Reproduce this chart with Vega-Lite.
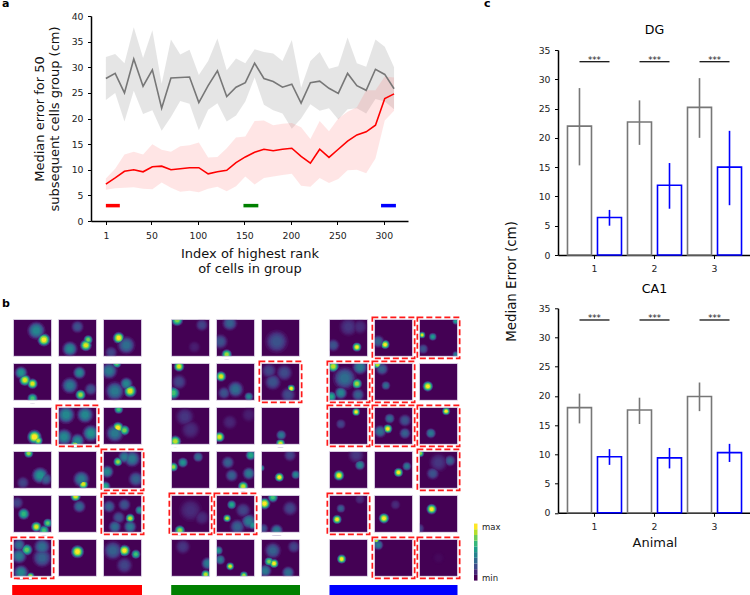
{"$schema":"https://vega.github.io/schema/vega-lite/v6.json","padding":{"left":2,"top":-2,"right":0,"bottom":0},"background":"white",
"config":{"view":{"stroke":null},"font":"DejaVu Sans","circle":{"opacity":1,"stroke":null},"legend":{"disable":true},
"axis":{"grid":false,"labelOverlap":false,"domainColor":"#000","domainWidth":1.5,"tickColor":"#000","tickSize":3.5,"tickWidth":1,"labelFont":"DejaVu Sans","labelFontSize":9.3,"labelColor":"#222","labelPadding":4.5,"titleFont":"DejaVu Sans","titleFontWeight":"normal","titleFontSize":13,"titleColor":"#111"},
"title":{"font":"DejaVu Sans"}},
"datasets":{
"spacer":[{"k":1}],
"slots":[{"m":1,"row":0,"col":0},{"m":2,"row":0,"col":1},{"m":3,"row":0,"col":2},{"m":4,"row":1,"col":0},{"m":5,"row":1,"col":1},{"m":6,"row":1,"col":2},{"m":7,"row":2,"col":0},{"m":8,"row":2,"col":1},{"m":9,"row":2,"col":2},{"m":10,"row":3,"col":0},{"m":11,"row":3,"col":1},{"m":12,"row":3,"col":2},{"m":13,"row":4,"col":0},{"m":14,"row":4,"col":1},{"m":15,"row":4,"col":2},{"m":16,"row":5,"col":0},{"m":17,"row":5,"col":1},{"m":18,"row":5,"col":2}],
"curve":[
{"x":1,"s":"gray","m":27.8,"lo":23.6,"hi":32.0},{"x":11,"s":"gray","m":28.8,"lo":25.0,"hi":32.6},{"x":21,"s":"gray","m":25.0,"lo":19.4,"hi":30.8},{"x":31,"s":"gray","m":31.6,"lo":25.4,"hi":37.8},{"x":41,"s":"gray","m":26.3,"lo":20.9,"hi":31.8},{"x":51,"s":"gray","m":29.5,"lo":21.6,"hi":37.2},{"x":61,"s":"gray","m":22.0,"lo":17.6,"hi":26.8},{"x":71,"s":"gray","m":27.9,"lo":20.3,"hi":35.4},{"x":81,"s":"gray","m":28.0,"lo":23.4,"hi":32.5},{"x":91,"s":"gray","m":28.1,"lo":22.9,"hi":33.4},{"x":101,"s":"gray","m":23.1,"lo":17.7,"hi":28.5},{"x":111,"s":"gray","m":26.4,"lo":21.7,"hi":31.2},{"x":121,"s":"gray","m":29.3,"lo":23.0,"hi":35.6},{"x":131,"s":"gray","m":24.3,"lo":19.4,"hi":29.4},{"x":141,"s":"gray","m":26.1,"lo":20.6,"hi":31.7},{"x":151,"s":"gray","m":27.0,"lo":23.3,"hi":30.8},{"x":161,"s":"gray","m":30.8,"lo":28.0,"hi":33.5},{"x":171,"s":"gray","m":27.8,"lo":22.7,"hi":33.0},{"x":181,"s":"gray","m":27.2,"lo":21.6,"hi":32.7},{"x":191,"s":"gray","m":26.1,"lo":21.0,"hi":31.2},{"x":201,"s":"gray","m":26.7,"lo":18.0,"hi":35.3},{"x":211,"s":"gray","m":23.0,"lo":20.0,"hi":26.0},{"x":221,"s":"gray","m":27.0,"lo":22.8,"hi":31.2},{"x":231,"s":"gray","m":27.3,"lo":21.5,"hi":33.0},{"x":241,"s":"gray","m":25.9,"lo":22.0,"hi":29.7},{"x":251,"s":"gray","m":24.9,"lo":19.8,"hi":30.2},{"x":261,"s":"gray","m":28.8,"lo":21.8,"hi":35.8},{"x":271,"s":"gray","m":26.4,"lo":22.0,"hi":30.8},{"x":281,"s":"gray","m":25.5,"lo":21.0,"hi":30.1},{"x":291,"s":"gray","m":29.6,"lo":23.8,"hi":35.4},{"x":301,"s":"gray","m":28.6,"lo":23.3,"hi":34.0},{"x":311,"s":"gray","m":25.8,"lo":21.8,"hi":30.0},
{"x":1,"s":"red","m":7.2,"lo":6.1,"hi":8.3},{"x":11,"s":"red","m":8.4,"lo":6.4,"hi":10.2},{"x":21,"s":"red","m":9.7,"lo":6.5,"hi":13.0},{"x":31,"s":"red","m":10.0,"lo":6.6,"hi":13.5},{"x":41,"s":"red","m":9.6,"lo":6.3,"hi":13.0},{"x":51,"s":"red","m":10.6,"lo":6.2,"hi":15.0},{"x":61,"s":"red","m":10.7,"lo":7.5,"hi":13.9},{"x":71,"s":"red","m":10.0,"lo":6.5,"hi":13.5},{"x":81,"s":"red","m":10.2,"lo":5.7,"hi":14.6},{"x":91,"s":"red","m":10.4,"lo":5.9,"hi":14.8},{"x":101,"s":"red","m":10.4,"lo":5.6,"hi":15.3},{"x":111,"s":"red","m":9.2,"lo":6.3,"hi":12.4},{"x":121,"s":"red","m":9.6,"lo":6.7,"hi":12.5},{"x":131,"s":"red","m":9.9,"lo":5.8,"hi":14.2},{"x":141,"s":"red","m":11.4,"lo":6.8,"hi":16.3},{"x":151,"s":"red","m":12.5,"lo":8.7,"hi":16.5},{"x":161,"s":"red","m":13.4,"lo":7.1,"hi":19.5},{"x":171,"s":"red","m":14.0,"lo":8.4,"hi":19.6},{"x":181,"s":"red","m":13.7,"lo":8.7,"hi":18.7},{"x":191,"s":"red","m":14.0,"lo":9.0,"hi":19.0},{"x":201,"s":"red","m":14.2,"lo":9.2,"hi":19.1},{"x":211,"s":"red","m":12.6,"lo":6.9,"hi":18.3},{"x":221,"s":"red","m":11.3,"lo":6.7,"hi":16.0},{"x":231,"s":"red","m":14.0,"lo":8.4,"hi":19.5},{"x":241,"s":"red","m":12.4,"lo":7.4,"hi":17.5},{"x":251,"s":"red","m":14.0,"lo":8.2,"hi":20.0},{"x":261,"s":"red","m":15.6,"lo":9.9,"hi":21.3},{"x":271,"s":"red","m":16.8,"lo":10.0,"hi":22.2},{"x":281,"s":"red","m":17.4,"lo":9.3,"hi":25.5},{"x":291,"s":"red","m":18.7,"lo":12.2,"hi":25.5},{"x":301,"s":"red","m":23.9,"lo":19.6,"hi":28.2},{"x":311,"s":"red","m":24.8,"lo":21.5,"hi":28.0}],
"ranges":[{"s":"red","start":1,"end":16,"y":3},{"s":"green","start":149,"end":165,"y":3},{"s":"blue","start":297,"end":313,"y":3}],
"groupbars":[{"g":1,"s":"red","start":2.2,"end":132},{"g":2,"s":"green","start":3.2,"end":132},{"g":3,"s":"blue","start":3.5,"end":131.5}],
"colorbar":[{"v":0,"v2":0.1},{"v":0.1,"v2":0.2},{"v":0.2,"v2":0.3},{"v":0.3,"v2":0.4},{"v":0.4,"v2":0.5},{"v":0.5,"v2":0.6},{"v":0.6,"v2":0.7},{"v":0.7,"v2":0.8},{"v":0.8,"v2":0.9},{"v":0.9,"v2":1}],
"errors":[
{"region":"DG","animal":"1","group":"gray","median":22,"lo":15.3,"hi":28.5},{"region":"DG","animal":"1","group":"blue","median":6.4,"lo":5,"hi":7.7},{"region":"DG","animal":"2","group":"gray","median":22.7,"lo":18.8,"hi":26.4},{"region":"DG","animal":"2","group":"blue","median":11.9,"lo":7.9,"hi":15.7},{"region":"DG","animal":"3","group":"gray","median":25.2,"lo":20,"hi":30.2},{"region":"DG","animal":"3","group":"blue","median":15,"lo":8.5,"hi":21.2},
{"region":"CA1","animal":"1","group":"gray","median":18,"lo":15.3,"hi":20.4},{"region":"CA1","animal":"1","group":"blue","median":9.6,"lo":8.2,"hi":10.9},{"region":"CA1","animal":"2","group":"gray","median":17.6,"lo":15.2,"hi":19.7},{"region":"CA1","animal":"2","group":"blue","median":9.4,"lo":7.6,"hi":11.1},{"region":"CA1","animal":"3","group":"gray","median":19.9,"lo":17.4,"hi":22.3},{"region":"CA1","animal":"3","group":"blue","median":10.3,"lo":8.7,"hi":11.8}],
"blobs":[
{"g":1,"m":1,"x":0.8,"y":0.55,"v":1,"r":0.1},{"g":1,"m":1,"x":0.6,"y":0.3,"v":0.45,"r":0.14},
{"g":1,"m":2,"x":0.72,"y":0.7,"v":0.95,"r":0.09},{"g":1,"m":2,"x":0.78,"y":0.55,"v":0.8,"r":0.07},{"g":1,"m":2,"x":0.3,"y":0.8,"v":0.45,"r":0.12},{"g":1,"m":2,"x":0.5,"y":0.2,"v":0.25,"r":0.1},
{"g":1,"m":3,"x":0.4,"y":0.5,"v":1,"r":0.09},{"g":1,"m":3,"x":0.6,"y":0.7,"v":0.35,"r":0.14},{"g":1,"m":3,"x":0.2,"y":0.9,"v":0.2,"r":0.1},
{"g":1,"m":4,"x":0.3,"y":0.45,"v":0.95,"r":0.09},{"g":1,"m":4,"x":0.5,"y":0.55,"v":0.95,"r":0.08},{"g":1,"m":4,"x":0.5,"y":0.95,"v":0.7,"r":0.08},{"g":1,"m":4,"x":0.2,"y":0.25,"v":0.5,"r":0.1},
{"g":1,"m":5,"x":0.58,"y":0.85,"v":0.85,"r":0.08},{"g":1,"m":5,"x":0.55,"y":0.25,"v":0.45,"r":0.1},{"g":1,"m":5,"x":0.3,"y":0.6,"v":0.4,"r":0.13},{"g":1,"m":5,"x":0.85,"y":0.7,"v":0.25,"r":0.1},
{"g":1,"m":6,"x":0.7,"y":0.75,"v":0.95,"r":0.1},{"g":1,"m":6,"x":0.35,"y":0,"v":0.75,"r":0.07},{"g":1,"m":6,"x":0.3,"y":0.75,"v":0.4,"r":0.15},{"g":1,"m":6,"x":0.15,"y":0.2,"v":0.4,"r":0.13},{"g":1,"m":6,"x":0.6,"y":0.55,"v":0.45,"r":0.1},
{"g":1,"m":7,"x":0.55,"y":0.8,"v":1,"r":0.11},{"g":1,"m":7,"x":0.65,"y":0.9,"v":0.9,"r":0.07},
{"g":1,"m":8,"x":0.45,"y":1,"v":0.85,"r":0.08,"d":1},{"g":1,"m":8,"x":0.2,"y":0.2,"v":0.46,"r":0.14},{"g":1,"m":8,"x":0.7,"y":0.2,"v":0.46,"r":0.13},{"g":1,"m":8,"x":0.85,"y":0.7,"v":0.5,"r":0.13},{"g":1,"m":8,"x":0.15,"y":0.8,"v":0.46,"r":0.13},{"g":1,"m":8,"x":0.5,"y":0.9,"v":0.46,"r":0.11},
{"g":1,"m":9,"x":0.38,"y":0.55,"v":1,"r":0.09},{"g":1,"m":9,"x":0.55,"y":0.62,"v":0.8,"r":0.08},{"g":1,"m":9,"x":0.4,"y":0.05,"v":0.7,"r":0.07},{"g":1,"m":9,"x":0.3,"y":0.7,"v":0.4,"r":0.14},
{"g":1,"m":10,"x":0.4,"y":0.05,"v":0.85,"r":0.07},{"g":1,"m":10,"x":0.7,"y":0.65,"v":0.5,"r":0.13},{"g":1,"m":10,"x":0.85,"y":0.75,"v":0.3,"r":0.1},{"g":1,"m":10,"x":0.25,"y":0.85,"v":0.2,"r":0.1},
{"g":1,"m":11,"x":0.65,"y":0.88,"v":0.95,"r":0.08},{"g":1,"m":11,"x":0.6,"y":0.75,"v":0.4,"r":0.13},
{"g":1,"m":12,"x":0.38,"y":0.28,"v":0.85,"r":0.07,"d":1},{"g":1,"m":12,"x":0.1,"y":0.55,"v":0.45,"r":0.1},{"g":1,"m":12,"x":0.55,"y":0.15,"v":0.4,"r":0.1},{"g":1,"m":12,"x":0.75,"y":0.2,"v":0.4,"r":0.13},{"g":1,"m":12,"x":0.05,"y":0.95,"v":0.6,"r":0.08},{"g":1,"m":12,"x":0.85,"y":0.75,"v":0.3,"r":0.12},
{"g":1,"m":13,"x":0.27,"y":0.5,"v":0.65,"r":0.09},{"g":1,"m":13,"x":0.6,"y":0.85,"v":0.95,"r":0.08},{"g":1,"m":13,"x":0.9,"y":0.75,"v":0.75,"r":0.07},{"g":1,"m":13,"x":0.8,"y":0.95,"v":0.7,"r":0.08},{"g":1,"m":13,"x":0.1,"y":0.2,"v":0.2,"r":0.1},
{"g":1,"m":14,"x":0.45,"y":0.02,"v":0.95,"r":0.08},{"g":1,"m":14,"x":0.55,"y":0.3,"v":0.33,"r":0.1},
{"g":1,"m":15,"x":0.7,"y":0.62,"v":0.9,"r":0.07,"d":1},{"g":1,"m":15,"x":0.95,"y":0.4,"v":0.5,"r":0.07},{"g":1,"m":15,"x":0.7,"y":0.85,"v":0.4,"r":0.1},{"g":1,"m":15,"x":0.3,"y":0.85,"v":0.35,"r":0.1},{"g":1,"m":15,"x":0.15,"y":0.3,"v":0.3,"r":0.1},{"g":1,"m":15,"x":0.55,"y":0.25,"v":0.25,"r":0.1},{"g":1,"m":15,"x":0.4,"y":0.6,"v":0.25,"r":0.1},
{"g":1,"m":16,"x":0.35,"y":0.28,"v":0.75,"r":0.09,"d":1},{"g":1,"m":16,"x":0.45,"y":1,"v":0.9,"r":0.06},{"g":1,"m":16,"x":0.15,"y":0.45,"v":0.4,"r":0.12},{"g":1,"m":16,"x":0.2,"y":0.9,"v":0.45,"r":0.12},{"g":1,"m":16,"x":0.75,"y":0.5,"v":0.3,"r":0.15},{"g":1,"m":16,"x":0.75,"y":0.2,"v":0.35,"r":0.13},{"g":1,"m":16,"x":0.15,"y":0.15,"v":0.35,"r":0.1},
{"g":1,"m":17,"x":0.5,"y":0.33,"v":1,"r":0.1},
{"g":1,"m":18,"x":0.55,"y":0.3,"v":1,"r":0.09},{"g":1,"m":18,"x":0.85,"y":0.4,"v":0.7,"r":0.07},{"g":1,"m":18,"x":0.25,"y":0.3,"v":0.3,"r":0.15},{"g":1,"m":18,"x":0.55,"y":0.7,"v":0.2,"r":0.13},
{"g":2,"m":1,"x":0.15,"y":0.02,"v":0.8,"r":0.09},{"g":2,"m":1,"x":0.8,"y":0.15,"v":0.2,"r":0.1},{"g":2,"m":1,"x":0.6,"y":0.75,"v":0.08,"r":0.1},
{"g":2,"m":2,"x":0.27,"y":0.95,"v":0.85,"r":0.08},{"g":2,"m":2,"x":0.35,"y":0.1,"v":0.3,"r":0.12},{"g":2,"m":2,"x":0.1,"y":0.6,"v":0.25,"r":0.12},
{"g":2,"m":3,"x":0.38,"y":0.58,"v":1,"r":0.08},{"g":2,"m":3,"x":0.4,"y":0.6,"v":0.25,"r":0.18},
{"g":2,"m":4,"x":0.2,"y":0.08,"v":0.95,"r":0.08},{"g":2,"m":4,"x":0.05,"y":0.8,"v":0.7,"r":0.1},{"g":2,"m":4,"x":0.2,"y":0.5,"v":0.2,"r":0.12},
{"g":2,"m":5,"x":0.12,"y":0.35,"v":0.95,"r":0.08},{"g":2,"m":5,"x":0.5,"y":0.7,"v":0.35,"r":0.13},{"g":2,"m":5,"x":0.2,"y":0.8,"v":0.25,"r":0.1},{"g":2,"m":5,"x":0.85,"y":0.9,"v":0.45,"r":0.07},
{"g":2,"m":6,"x":0.78,"y":0.68,"v":1,"r":0.06,"d":1},{"g":2,"m":6,"x":0.3,"y":0.5,"v":0.25,"r":0.13},{"g":2,"m":6,"x":0.6,"y":0.25,"v":0.22,"r":0.13},{"g":2,"m":6,"x":0.7,"y":0.85,"v":0.22,"r":0.12},{"g":2,"m":6,"x":0.2,"y":0.2,"v":0.2,"r":0.12},
{"g":2,"m":7,"x":0.1,"y":0.92,"v":0.9,"r":0.09},{"g":2,"m":7,"x":0.35,"y":0.25,"v":0.15,"r":0.15},{"g":2,"m":7,"x":0.5,"y":0.6,"v":0.12,"r":0.15},
{"g":2,"m":8,"x":0.08,"y":0.8,"v":0.95,"r":0.08},{"g":2,"m":8,"x":0.35,"y":0.4,"v":0.1,"r":0.12},{"g":2,"m":8,"x":0.85,"y":0.2,"v":0.08,"r":0.12},
{"g":2,"m":9,"x":0.5,"y":0.98,"v":0.95,"r":0.07},{"g":2,"m":9,"x":0.52,"y":0.75,"v":0.4,"r":0.08},
{"g":2,"m":10,"x":0.05,"y":0.42,"v":0.85,"r":0.07},{"g":2,"m":10,"x":0.3,"y":0.3,"v":0.5,"r":0.08},{"g":2,"m":10,"x":0.7,"y":0.15,"v":0.35,"r":0.08},
{"g":2,"m":11,"x":0.7,"y":0.95,"v":0.9,"r":0.08},{"g":2,"m":11,"x":0.9,"y":0.1,"v":0.6,"r":0.08},{"g":2,"m":11,"x":0.85,"y":0.6,"v":0.4,"r":0.1},{"g":2,"m":11,"x":0.3,"y":0.3,"v":0.3,"r":0.1},{"g":2,"m":11,"x":0.4,"y":0.65,"v":0.3,"r":0.1},
{"g":2,"m":12,"x":0.47,"y":0.7,"v":1,"r":0.07},{"g":2,"m":12,"x":0,"y":0.45,"v":0.55,"r":0.05},{"g":2,"m":12,"x":0.9,"y":0.63,"v":0.45,"r":0.07},{"g":2,"m":12,"x":0.75,"y":0.1,"v":0.2,"r":0.1},
{"g":2,"m":13,"x":0.22,"y":0.95,"v":0.85,"r":0.08,"d":1},{"g":2,"m":13,"x":0.5,"y":0.4,"v":0.12,"r":0.18},{"g":2,"m":13,"x":0.8,"y":0.6,"v":0.12,"r":0.12},
{"g":2,"m":14,"x":0.28,"y":0.62,"v":0.9,"r":0.06,"d":1},{"g":2,"m":14,"x":0.4,"y":0.25,"v":0.6,"r":0.07},{"g":2,"m":14,"x":0.85,"y":0.7,"v":0.4,"r":0.12},{"g":2,"m":14,"x":0.95,"y":0.8,"v":0.5,"r":0.07},{"g":2,"m":14,"x":0.55,"y":0.85,"v":0.3,"r":0.12},{"g":2,"m":14,"x":0.7,"y":0.4,"v":0.2,"r":0.12},
{"g":2,"m":15,"x":0.08,"y":0.22,"v":1,"r":0.09},{"g":2,"m":15,"x":0.3,"y":0.05,"v":0.7,"r":0.08},{"g":2,"m":15,"x":0.4,"y":0.95,"v":0.4,"r":0.1},{"g":2,"m":15,"x":0.75,"y":0.35,"v":0.2,"r":0.12},{"g":2,"m":15,"x":0.05,"y":0.9,"v":0.25,"r":0.08},
{"g":2,"m":16,"x":0.9,"y":0.95,"v":0.9,"r":0.07},{"g":2,"m":16,"x":0.95,"y":0.65,"v":0.4,"r":0.1},{"g":2,"m":16,"x":0.3,"y":0.2,"v":0.15,"r":0.12},
{"g":2,"m":17,"x":0.36,"y":0.73,"v":0.95,"r":0.06},{"g":2,"m":17,"x":0.05,"y":0.3,"v":0.5,"r":0.07},{"g":2,"m":17,"x":0.1,"y":0.55,"v":0.4,"r":0.08},{"g":2,"m":17,"x":0.72,"y":0.97,"v":0.85,"r":0.06},
{"g":2,"m":18,"x":0.33,"y":0.65,"v":1,"r":0.07},{"g":2,"m":18,"x":0.2,"y":0.6,"v":0.8,"r":0.07},{"g":2,"m":18,"x":0.1,"y":0.85,"v":0.4,"r":0.1},{"g":2,"m":18,"x":0.7,"y":0.9,"v":0.35,"r":0.1},{"g":2,"m":18,"x":0.3,"y":0.3,"v":0.3,"r":0.13},{"g":2,"m":18,"x":0.85,"y":0.2,"v":0.2,"r":0.1},
{"g":3,"m":1,"x":0.72,"y":0.75,"v":1,"r":0.07},{"g":3,"m":1,"x":0.1,"y":0.7,"v":0.25,"r":0.1},{"g":3,"m":1,"x":0.5,"y":0.2,"v":0.15,"r":0.15},{"g":3,"m":1,"x":0.8,"y":0.2,"v":0.12,"r":0.12},
{"g":3,"m":2,"x":0.28,"y":0.68,"v":1,"r":0.07,"d":1},{"g":3,"m":2,"x":0.1,"y":0.6,"v":0.3,"r":0.1},
{"g":3,"m":3,"x":0.07,"y":0.42,"v":0.95,"r":0.05,"d":1},{"g":3,"m":3,"x":0.35,"y":0.47,"v":0.55,"r":0.06},{"g":3,"m":3,"x":0.95,"y":0.05,"v":0.55,"r":0.05},{"g":3,"m":3,"x":0.95,"y":0.95,"v":0.4,"r":0.05},{"g":3,"m":3,"x":0.1,"y":0.8,"v":0.25,"r":0.08},
{"g":3,"m":4,"x":0.1,"y":0.08,"v":0.9,"r":0.09,"d":1},{"g":3,"m":4,"x":0.72,"y":0.55,"v":0.85,"r":0.08},{"g":3,"m":4,"x":0.05,"y":0.9,"v":0.6,"r":0.08},{"g":3,"m":4,"x":0.8,"y":0.1,"v":0.4,"r":0.12},{"g":3,"m":4,"x":0.3,"y":0.8,"v":0.45,"r":0.1},{"g":3,"m":4,"x":0.75,"y":0.85,"v":0.3,"r":0.1},{"g":3,"m":4,"x":0.4,"y":0.4,"v":0.35,"r":0.18},
{"g":3,"m":5,"x":0.08,"y":0.03,"v":0.9,"r":0.07,"d":1},{"g":3,"m":5,"x":0.3,"y":0.6,"v":0.35,"r":0.07},{"g":3,"m":5,"x":0.2,"y":0.15,"v":0.3,"r":0.1},
{"g":3,"m":6,"x":0.22,"y":0.62,"v":1,"r":0.08},
{"g":3,"m":7,"x":0.7,"y":0.12,"v":1,"r":0.06,"d":1},{"g":3,"m":7,"x":0.3,"y":0.45,"v":0.2,"r":0.08},
{"g":3,"m":8,"x":0.35,"y":0.58,"v":1,"r":0.07,"d":1},{"g":3,"m":8,"x":0.4,"y":0.3,"v":0.35,"r":0.08},{"g":3,"m":8,"x":0.15,"y":0.65,"v":0.35,"r":0.1},{"g":3,"m":8,"x":0.8,"y":0.7,"v":0.3,"r":0.09},{"g":3,"m":8,"x":0.8,"y":0.35,"v":0.25,"r":0.1},
{"g":3,"m":9,"x":0.7,"y":0.1,"v":1,"r":0.06,"d":1},{"g":3,"m":9,"x":0.3,"y":0.7,"v":0.4,"r":0.08},
{"g":3,"m":10,"x":0.25,"y":0.65,"v":1,"r":0.08},{"g":3,"m":10,"x":0.8,"y":0.37,"v":0.45,"r":0.08},{"g":3,"m":10,"x":0.7,"y":0.1,"v":0.15,"r":0.13},
{"g":3,"m":11,"x":0.63,"y":0.57,"v":1,"r":0.07},{"g":3,"m":11,"x":0.85,"y":0.4,"v":0.4,"r":0.07},
{"g":3,"m":12,"x":0.02,"y":0.05,"v":0.85,"r":0.06,"d":1},{"g":3,"m":12,"x":0.35,"y":0.6,"v":0.25,"r":0.1},{"g":3,"m":12,"x":0.8,"y":0.25,"v":0.3,"r":0.09},{"g":3,"m":12,"x":0.5,"y":0.3,"v":0.15,"r":0.15},
{"g":3,"m":13,"x":0.2,"y":0.65,"v":1,"r":0.07,"d":1},{"g":3,"m":13,"x":0.3,"y":0.35,"v":0.3,"r":0.07},{"g":3,"m":13,"x":0.8,"y":0.1,"v":0.12,"r":0.08},
{"g":3,"m":14,"x":0.25,"y":0.62,"v":1,"r":0.08},{"g":3,"m":14,"x":0.55,"y":0.25,"v":0.12,"r":0.08},
{"g":3,"m":15,"x":0.32,"y":0.37,"v":1,"r":0.08},{"g":3,"m":15,"x":0,"y":0.9,"v":0.2,"r":0.08},
{"g":3,"m":16,"x":0.32,"y":0.53,"v":1,"r":0.07},
{"g":3,"m":17,"x":0.05,"y":0.03,"v":0.9,"r":0.05,"d":1},{"g":3,"m":17,"x":0.1,"y":0.15,"v":0.4,"r":0.08},
{"g":3,"m":18,"x":0.5,"y":0.5,"v":0.02,"r":0.1,"d":1}]
},
"spacing":-17,
"hconcat":[
{"spacing":22,"vconcat":[
{"bounds":"flush","spacing":0,"hconcat":[
{"width":81,"height":205,"title":{"text":"a","anchor":"start","frame":"group","fontSize":11,"fontWeight":"bold","offset":7,"dx":-8},"data":{"name":"spacer"},"mark":{"type":"rect","opacity":0},"encoding":{}},
{"width":317,"height":205,
"layer":[
{"data":{"name":"curve"},"mark":{"type":"area","opacity":0.18,"stroke":null},"encoding":{"x":{"field":"x","type":"quantitative","scale":{"domain":[-15,326],"nice":false,"zero":false},"axis":{"values":[1,50,100,150,200,250,300],"tickCount":7,"title":["Index of highest rank","of cells in group"],"labelPadding":7,"titlePadding":7,"labelFlush":false}},"y":{"field":"lo","type":"quantitative","scale":{"domain":[0,40],"nice":false},"axis":{"values":[0,5,10,15,20,25,30,35,40],"tickCount":9,"title":["Median error for 50","subsequent cells group (cm)"],"titlePadding":10}},"y2":{"field":"hi"},"fill":{"field":"s","type":"nominal","legend":null,"scale":{"domain":["gray","red"],"range":["#707070","#ff7070"]}}}},
{"data":{"name":"curve"},"mark":{"type":"line","strokeWidth":1.6},"encoding":{"x":{"field":"x","type":"quantitative"},"y":{"field":"m","type":"quantitative"},"stroke":{"field":"s","type":"nominal","legend":null,"scale":{"domain":["gray","red","green","blue"],"range":["#777777","#ff0000","#008000","#0000ff"]}}}},
{"data":{"name":"ranges"},"mark":{"type":"rule","strokeWidth":3.5},"encoding":{"x":{"field":"start","type":"quantitative"},"x2":{"field":"end"},"y":{"field":"y","type":"quantitative"},"stroke":{"field":"s","type":"nominal","legend":null,"scale":{"domain":["gray","red","green","blue"],"range":["#777777","#ff0000","#008000","#0000ff"]}}}}
]}]},
{"title":{"text":"b","anchor":"start","frame":"group","fontSize":11,"fontWeight":"bold","offset":7,"dx":-8},"spacing":23,"hconcat":[
{"spacing":5,"vconcat":[
{"data":{"name":"blobs"},"transform":[{"filter":"datum.g==1"},{"lookup":"m","from":{"data":{"name":"slots"},"key":"m","fields":["row","col"]}}],"spacing":{"row":0,"column":0},"facet":{"row":{"field":"row","type":"ordinal","header":null},"column":{"field":"col","type":"ordinal","header":null}},"spec":{"width":45,"height":43.8,"resolve":{"scale":{"color":"independent","size":"independent"}},"layer":[
{"transform":[{"aggregate":[{"op":"count","as":"n"}],"groupby":["m"]}],"mark":{"type":"rect","fill":"#440154"},"encoding":{"x":{"datum":0,"type":"quantitative","axis":null,"scale":{"domain":[-0.09,1.09],"nice":false,"zero":false}},"x2":{"datum":1},"y":{"datum":0,"type":"quantitative","axis":null,"scale":{"domain":[-0.095,1.095],"nice":false,"zero":false,"reverse":true}},"y2":{"datum":1}}},
{"mark":{"type":"circle","clip":true},"encoding":{"x":{"field":"x","type":"quantitative","axis":null},"y":{"field":"y","type":"quantitative","axis":null},"size":{"field":"r","type":"quantitative","legend":null,"scale":{"type":"pow","exponent":2,"domain":[0,1],"range":[0,18000]}},"color":{"field":"v","type":"quantitative","legend":null,"scale":{"scheme":"viridis","domain":[0,8.33]}}}},
{"mark":{"type":"circle","clip":true},"encoding":{"x":{"field":"x","type":"quantitative","axis":null},"y":{"field":"y","type":"quantitative","axis":null},"size":{"field":"r","type":"quantitative","legend":null,"scale":{"type":"pow","exponent":2,"domain":[0,1],"range":[0,13000]}},"color":{"field":"v","type":"quantitative","legend":null,"scale":{"scheme":"viridis","domain":[0,3.33]}}}},
{"mark":{"type":"circle","clip":true},"encoding":{"x":{"field":"x","type":"quantitative","axis":null},"y":{"field":"y","type":"quantitative","axis":null},"size":{"field":"r","type":"quantitative","legend":null,"scale":{"type":"pow","exponent":2,"domain":[0,1],"range":[0,10000]}},"color":{"field":"v","type":"quantitative","legend":null,"scale":{"scheme":"viridis","domain":[0,2]}}}},
{"mark":{"type":"circle","clip":true},"encoding":{"x":{"field":"x","type":"quantitative","axis":null},"y":{"field":"y","type":"quantitative","axis":null},"size":{"field":"r","type":"quantitative","legend":null,"scale":{"type":"pow","exponent":2,"domain":[0,1],"range":[0,7200]}},"color":{"field":"v","type":"quantitative","legend":null,"scale":{"scheme":"viridis","domain":[0,1.43]}}}},
{"mark":{"type":"circle","clip":true},"encoding":{"x":{"field":"x","type":"quantitative","axis":null},"y":{"field":"y","type":"quantitative","axis":null},"size":{"field":"r","type":"quantitative","legend":null,"scale":{"type":"pow","exponent":2,"domain":[0,1],"range":[0,4600]}},"color":{"field":"v","type":"quantitative","legend":null,"scale":{"scheme":"viridis","domain":[0,1.18]}}}},
{"mark":{"type":"circle","clip":true},"encoding":{"x":{"field":"x","type":"quantitative","axis":null},"y":{"field":"y","type":"quantitative","axis":null},"size":{"field":"r","type":"quantitative","legend":null,"scale":{"type":"pow","exponent":2,"domain":[0,1],"range":[0,2200]}},"color":{"field":"v","type":"quantitative","legend":null,"scale":{"scheme":"viridis","domain":[0,1]}}}},
{"transform":[{"aggregate":[{"op":"count","as":"n"}],"groupby":["m"]}],"mark":{"type":"rect","fill":null,"stroke":"#ffffff","strokeWidth":7,"clip":true},"encoding":{"x":{"datum":-0.09,"type":"quantitative","axis":null},"x2":{"datum":1.09},"y":{"datum":-0.095,"type":"quantitative","axis":null},"y2":{"datum":1.095}}},
{"transform":[{"aggregate":[{"op":"count","as":"n"}],"groupby":["m"]}],"mark":{"type":"rect","fill":null,"stroke":"#d5cde2","strokeWidth":0.8},"encoding":{"x":{"datum":0,"type":"quantitative","axis":null},"x2":{"datum":1},"y":{"datum":0,"type":"quantitative","axis":null},"y2":{"datum":1}}},
{"transform":[{"filter":"datum.d==1"}],"mark":{"type":"rect","fill":null,"stroke":"#ff1a1a","strokeWidth":1.7,"strokeDash":[6,3]},"encoding":{"x":{"datum":-0.055,"type":"quantitative","axis":null},"x2":{"datum":1.055},"y":{"datum":-0.055,"type":"quantitative","axis":null},"y2":{"datum":1.055}}}
]}},
{"width":135,"height":10,"data":{"name":"groupbars"},"transform":[{"filter":"datum.g==1"}],"mark":{"type":"rect"},"encoding":{"x":{"field":"start","type":"quantitative","axis":null,"scale":{"domain":[0,135],"nice":false,"zero":false}},"x2":{"field":"end"},"color":{"field":"s","type":"nominal","legend":null,"scale":{"domain":["red","green","blue"],"range":["#ff0000","#008000","#0000ff"]}}}}
]},
{"spacing":5,"vconcat":[
{"data":{"name":"blobs"},"transform":[{"filter":"datum.g==2"},{"lookup":"m","from":{"data":{"name":"slots"},"key":"m","fields":["row","col"]}}],"spacing":{"row":0,"column":0},"facet":{"row":{"field":"row","type":"ordinal","header":null},"column":{"field":"col","type":"ordinal","header":null}},"spec":{"width":45,"height":43.8,"resolve":{"scale":{"color":"independent","size":"independent"}},"layer":[
{"transform":[{"aggregate":[{"op":"count","as":"n"}],"groupby":["m"]}],"mark":{"type":"rect","fill":"#440154"},"encoding":{"x":{"datum":0,"type":"quantitative","axis":null,"scale":{"domain":[-0.09,1.09],"nice":false,"zero":false}},"x2":{"datum":1},"y":{"datum":0,"type":"quantitative","axis":null,"scale":{"domain":[-0.095,1.095],"nice":false,"zero":false,"reverse":true}},"y2":{"datum":1}}},
{"mark":{"type":"circle","clip":true},"encoding":{"x":{"field":"x","type":"quantitative","axis":null},"y":{"field":"y","type":"quantitative","axis":null},"size":{"field":"r","type":"quantitative","legend":null,"scale":{"type":"pow","exponent":2,"domain":[0,1],"range":[0,18000]}},"color":{"field":"v","type":"quantitative","legend":null,"scale":{"scheme":"viridis","domain":[0,8.33]}}}},
{"mark":{"type":"circle","clip":true},"encoding":{"x":{"field":"x","type":"quantitative","axis":null},"y":{"field":"y","type":"quantitative","axis":null},"size":{"field":"r","type":"quantitative","legend":null,"scale":{"type":"pow","exponent":2,"domain":[0,1],"range":[0,13000]}},"color":{"field":"v","type":"quantitative","legend":null,"scale":{"scheme":"viridis","domain":[0,3.33]}}}},
{"mark":{"type":"circle","clip":true},"encoding":{"x":{"field":"x","type":"quantitative","axis":null},"y":{"field":"y","type":"quantitative","axis":null},"size":{"field":"r","type":"quantitative","legend":null,"scale":{"type":"pow","exponent":2,"domain":[0,1],"range":[0,10000]}},"color":{"field":"v","type":"quantitative","legend":null,"scale":{"scheme":"viridis","domain":[0,2]}}}},
{"mark":{"type":"circle","clip":true},"encoding":{"x":{"field":"x","type":"quantitative","axis":null},"y":{"field":"y","type":"quantitative","axis":null},"size":{"field":"r","type":"quantitative","legend":null,"scale":{"type":"pow","exponent":2,"domain":[0,1],"range":[0,7200]}},"color":{"field":"v","type":"quantitative","legend":null,"scale":{"scheme":"viridis","domain":[0,1.43]}}}},
{"mark":{"type":"circle","clip":true},"encoding":{"x":{"field":"x","type":"quantitative","axis":null},"y":{"field":"y","type":"quantitative","axis":null},"size":{"field":"r","type":"quantitative","legend":null,"scale":{"type":"pow","exponent":2,"domain":[0,1],"range":[0,4600]}},"color":{"field":"v","type":"quantitative","legend":null,"scale":{"scheme":"viridis","domain":[0,1.18]}}}},
{"mark":{"type":"circle","clip":true},"encoding":{"x":{"field":"x","type":"quantitative","axis":null},"y":{"field":"y","type":"quantitative","axis":null},"size":{"field":"r","type":"quantitative","legend":null,"scale":{"type":"pow","exponent":2,"domain":[0,1],"range":[0,2200]}},"color":{"field":"v","type":"quantitative","legend":null,"scale":{"scheme":"viridis","domain":[0,1]}}}},
{"transform":[{"aggregate":[{"op":"count","as":"n"}],"groupby":["m"]}],"mark":{"type":"rect","fill":null,"stroke":"#ffffff","strokeWidth":7,"clip":true},"encoding":{"x":{"datum":-0.09,"type":"quantitative","axis":null},"x2":{"datum":1.09},"y":{"datum":-0.095,"type":"quantitative","axis":null},"y2":{"datum":1.095}}},
{"transform":[{"aggregate":[{"op":"count","as":"n"}],"groupby":["m"]}],"mark":{"type":"rect","fill":null,"stroke":"#d5cde2","strokeWidth":0.8},"encoding":{"x":{"datum":0,"type":"quantitative","axis":null},"x2":{"datum":1},"y":{"datum":0,"type":"quantitative","axis":null},"y2":{"datum":1}}},
{"transform":[{"filter":"datum.d==1"}],"mark":{"type":"rect","fill":null,"stroke":"#ff1a1a","strokeWidth":1.7,"strokeDash":[6,3]},"encoding":{"x":{"datum":-0.055,"type":"quantitative","axis":null},"x2":{"datum":1.055},"y":{"datum":-0.055,"type":"quantitative","axis":null},"y2":{"datum":1.055}}}
]}},
{"width":135,"height":10,"data":{"name":"groupbars"},"transform":[{"filter":"datum.g==2"}],"mark":{"type":"rect"},"encoding":{"x":{"field":"start","type":"quantitative","axis":null,"scale":{"domain":[0,135],"nice":false,"zero":false}},"x2":{"field":"end"},"color":{"field":"s","type":"nominal","legend":null,"scale":{"domain":["red","green","blue"],"range":["#ff0000","#008000","#0000ff"]}}}}
]},
{"spacing":13,"hconcat":[
{"spacing":5,"vconcat":[
{"data":{"name":"blobs"},"transform":[{"filter":"datum.g==3"},{"lookup":"m","from":{"data":{"name":"slots"},"key":"m","fields":["row","col"]}}],"spacing":{"row":0,"column":0},"facet":{"row":{"field":"row","type":"ordinal","header":null},"column":{"field":"col","type":"ordinal","header":null}},"spec":{"width":45,"height":43.8,"resolve":{"scale":{"color":"independent","size":"independent"}},"layer":[
{"transform":[{"aggregate":[{"op":"count","as":"n"}],"groupby":["m"]}],"mark":{"type":"rect","fill":"#440154"},"encoding":{"x":{"datum":0,"type":"quantitative","axis":null,"scale":{"domain":[-0.09,1.09],"nice":false,"zero":false}},"x2":{"datum":1},"y":{"datum":0,"type":"quantitative","axis":null,"scale":{"domain":[-0.095,1.095],"nice":false,"zero":false,"reverse":true}},"y2":{"datum":1}}},
{"mark":{"type":"circle","clip":true},"encoding":{"x":{"field":"x","type":"quantitative","axis":null},"y":{"field":"y","type":"quantitative","axis":null},"size":{"field":"r","type":"quantitative","legend":null,"scale":{"type":"pow","exponent":2,"domain":[0,1],"range":[0,18000]}},"color":{"field":"v","type":"quantitative","legend":null,"scale":{"scheme":"viridis","domain":[0,8.33]}}}},
{"mark":{"type":"circle","clip":true},"encoding":{"x":{"field":"x","type":"quantitative","axis":null},"y":{"field":"y","type":"quantitative","axis":null},"size":{"field":"r","type":"quantitative","legend":null,"scale":{"type":"pow","exponent":2,"domain":[0,1],"range":[0,13000]}},"color":{"field":"v","type":"quantitative","legend":null,"scale":{"scheme":"viridis","domain":[0,3.33]}}}},
{"mark":{"type":"circle","clip":true},"encoding":{"x":{"field":"x","type":"quantitative","axis":null},"y":{"field":"y","type":"quantitative","axis":null},"size":{"field":"r","type":"quantitative","legend":null,"scale":{"type":"pow","exponent":2,"domain":[0,1],"range":[0,10000]}},"color":{"field":"v","type":"quantitative","legend":null,"scale":{"scheme":"viridis","domain":[0,2]}}}},
{"mark":{"type":"circle","clip":true},"encoding":{"x":{"field":"x","type":"quantitative","axis":null},"y":{"field":"y","type":"quantitative","axis":null},"size":{"field":"r","type":"quantitative","legend":null,"scale":{"type":"pow","exponent":2,"domain":[0,1],"range":[0,7200]}},"color":{"field":"v","type":"quantitative","legend":null,"scale":{"scheme":"viridis","domain":[0,1.43]}}}},
{"mark":{"type":"circle","clip":true},"encoding":{"x":{"field":"x","type":"quantitative","axis":null},"y":{"field":"y","type":"quantitative","axis":null},"size":{"field":"r","type":"quantitative","legend":null,"scale":{"type":"pow","exponent":2,"domain":[0,1],"range":[0,4600]}},"color":{"field":"v","type":"quantitative","legend":null,"scale":{"scheme":"viridis","domain":[0,1.18]}}}},
{"mark":{"type":"circle","clip":true},"encoding":{"x":{"field":"x","type":"quantitative","axis":null},"y":{"field":"y","type":"quantitative","axis":null},"size":{"field":"r","type":"quantitative","legend":null,"scale":{"type":"pow","exponent":2,"domain":[0,1],"range":[0,2200]}},"color":{"field":"v","type":"quantitative","legend":null,"scale":{"scheme":"viridis","domain":[0,1]}}}},
{"transform":[{"aggregate":[{"op":"count","as":"n"}],"groupby":["m"]}],"mark":{"type":"rect","fill":null,"stroke":"#ffffff","strokeWidth":7,"clip":true},"encoding":{"x":{"datum":-0.09,"type":"quantitative","axis":null},"x2":{"datum":1.09},"y":{"datum":-0.095,"type":"quantitative","axis":null},"y2":{"datum":1.095}}},
{"transform":[{"aggregate":[{"op":"count","as":"n"}],"groupby":["m"]}],"mark":{"type":"rect","fill":null,"stroke":"#d5cde2","strokeWidth":0.8},"encoding":{"x":{"datum":0,"type":"quantitative","axis":null},"x2":{"datum":1},"y":{"datum":0,"type":"quantitative","axis":null},"y2":{"datum":1}}},
{"transform":[{"filter":"datum.d==1"}],"mark":{"type":"rect","fill":null,"stroke":"#ff1a1a","strokeWidth":1.7,"strokeDash":[6,3]},"encoding":{"x":{"datum":-0.055,"type":"quantitative","axis":null},"x2":{"datum":1.055},"y":{"datum":-0.055,"type":"quantitative","axis":null},"y2":{"datum":1.055}}}
]}},
{"width":135,"height":10,"data":{"name":"groupbars"},"transform":[{"filter":"datum.g==3"}],"mark":{"type":"rect"},"encoding":{"x":{"field":"start","type":"quantitative","axis":null,"scale":{"domain":[0,135],"nice":false,"zero":false}},"x2":{"field":"end"},"color":{"field":"s","type":"nominal","legend":null,"scale":{"domain":["red","green","blue"],"range":["#ff0000","#008000","#0000ff"]}}}}
]},
{"width":3.5,"height":264.6,"data":{"name":"colorbar"},"mark":{"type":"rect"},"encoding":{"y":{"field":"v","type":"quantitative","scale":{"domain":[0,4.64],"nice":false},"axis":{"orient":"right","values":[0.05,0.95],"labelExpr":"datum.value<0.5?'min':'max'","domain":false,"ticks":false,"title":null,"labelFontSize":8.5,"labelPadding":4}},"y2":{"field":"v2"},"color":{"field":"v","type":"quantitative","legend":null,"scale":{"scheme":"viridis","domain":[0,0.9]}}}}
]}
]}
]},
{"bounds":"flush","spacing":0,"vconcat":[
{"width":193,"height":33.7,"title":{"text":"c","anchor":"start","frame":"group","fontSize":11,"fontWeight":"bold","offset":7,"dx":-74},"data":{"name":"spacer"},"mark":{"type":"rect","opacity":0},"encoding":{}},
{"bounds":"flush","spacing":53.3,"vconcat":[
{"width":193,"height":205,"title":{"text":"DG","fontSize":12.6,"fontWeight":"normal","offset":9},"data":{"name":"errors"},"transform":[{"filter":"datum.region=='DG'"}],
"layer":[
{"mark":{"type":"bar","fill":"transparent","strokeWidth":1.6},"encoding":{"x":{"field":"animal","type":"ordinal","scale":{"paddingInner":0,"paddingOuter":0.108},"axis":{"labelAngle":0,"title":null,"labelPadding":6}},"xOffset":{"field":"group","scale":{"domain":["gray","blue"],"paddingInner":0.2,"paddingOuter":0.1}},"y":{"field":"median","type":"quantitative","scale":{"domain":[0,35],"nice":false},"axis":{"values":[0,5,10,15,20,25,30,35],"tickCount":8,"title":"Median Error (cm)","titleFontSize":13.4,"titleX":-40,"titleY":231}},"stroke":{"field":"group","type":"nominal","legend":null,"scale":{"domain":["gray","blue"],"range":["#808080","#0000ff"]}}}},
{"mark":{"type":"rule","strokeWidth":1.6},"encoding":{"x":{"field":"animal","type":"ordinal"},"xOffset":{"field":"group","scale":{"domain":["gray","blue"],"paddingInner":0.2,"paddingOuter":0.1}},"y":{"field":"lo","type":"quantitative"},"y2":{"field":"hi"},"stroke":{"field":"group","type":"nominal","legend":null,"scale":{"domain":["gray","blue"],"range":["#808080","#0000ff"]}}}},
{"mark":{"type":"line","stroke":"#000","strokeWidth":1.2},"encoding":{"x":{"field":"animal","type":"ordinal"},"xOffset":{"field":"group","scale":{"domain":["gray","blue"],"paddingInner":0.2,"paddingOuter":0.1}},"y":{"datum":33,"type":"quantitative"},"detail":{"field":"animal"}}},
{"transform":[{"filter":"datum.group=='gray'"}],"mark":{"type":"text","text":"***","fontSize":8.5,"baseline":"bottom","dy":3,"color":"#222"},"encoding":{"x":{"field":"animal","type":"ordinal"},"y":{"datum":33,"type":"quantitative"}}}
]},
{"width":193,"height":204.5,"title":{"text":"CA1","fontSize":12.6,"fontWeight":"normal","offset":9},"data":{"name":"errors"},"transform":[{"filter":"datum.region=='CA1'"}],
"layer":[
{"mark":{"type":"bar","fill":"transparent","strokeWidth":1.6},"encoding":{"x":{"field":"animal","type":"ordinal","scale":{"paddingInner":0,"paddingOuter":0.108},"axis":{"labelAngle":0,"title":"Animal","labelPadding":6,"titlePadding":5}},"xOffset":{"field":"group","scale":{"domain":["gray","blue"],"paddingInner":0.2,"paddingOuter":0.1}},"y":{"field":"median","type":"quantitative","scale":{"domain":[0,35],"nice":false},"axis":{"values":[0,5,10,15,20,25,30,35],"tickCount":8,"title":null}},"stroke":{"field":"group","type":"nominal","legend":null,"scale":{"domain":["gray","blue"],"range":["#808080","#0000ff"]}}}},
{"mark":{"type":"rule","strokeWidth":1.6},"encoding":{"x":{"field":"animal","type":"ordinal"},"xOffset":{"field":"group","scale":{"domain":["gray","blue"],"paddingInner":0.2,"paddingOuter":0.1}},"y":{"field":"lo","type":"quantitative"},"y2":{"field":"hi"},"stroke":{"field":"group","type":"nominal","legend":null,"scale":{"domain":["gray","blue"],"range":["#808080","#0000ff"]}}}},
{"mark":{"type":"line","stroke":"#000","strokeWidth":1.2},"encoding":{"x":{"field":"animal","type":"ordinal"},"xOffset":{"field":"group","scale":{"domain":["gray","blue"],"paddingInner":0.2,"paddingOuter":0.1}},"y":{"datum":33,"type":"quantitative"},"detail":{"field":"animal"}}},
{"transform":[{"filter":"datum.group=='gray'"}],"mark":{"type":"text","text":"***","fontSize":8.5,"baseline":"bottom","dy":3,"color":"#222"},"encoding":{"x":{"field":"animal","type":"ordinal"},"y":{"datum":33,"type":"quantitative"}}}
]}
]}
]}
]}
